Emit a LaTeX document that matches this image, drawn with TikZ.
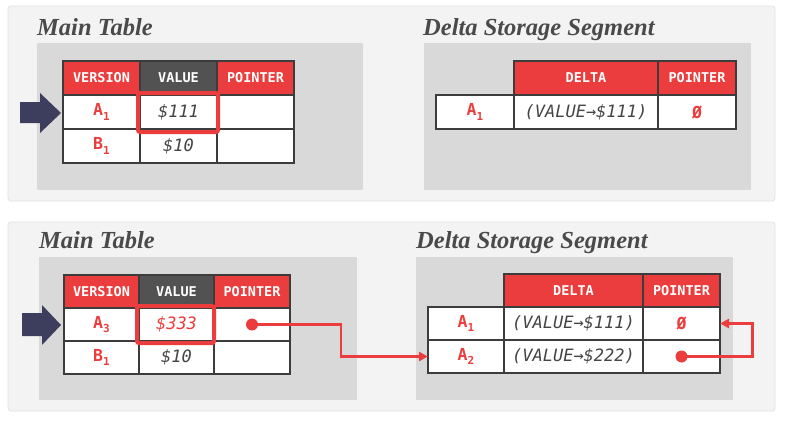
\documentclass[tikz,border=0pt]{standalone}
\usepackage{fontspec}
\usetikzlibrary{arrows.meta,calc,positioning}
\newfontfamily\titlefont{Liberation Serif}
\newfontfamily\monofont{DejaVu Sans Mono}
\definecolor{dbred}{HTML}{EB3D3D}
\definecolor{hdrgray}{HTML}{525252}
\definecolor{cellline}{HTML}{3C3C3C}
\definecolor{panelgray}{HTML}{F3F3F3}
\definecolor{panelline}{HTML}{E2E2E2}
\definecolor{traygray}{HTML}{D9D9D9}
\definecolor{titletext}{HTML}{4A4A4A}
\definecolor{valtext}{HTML}{454545}
\definecolor{navy}{HTML}{3D3E5E}
\newcommand{\vsub}[1]{\raisebox{-0.45ex}{\fontsize{11}{11}\selectfont #1}}

\begin{document}
\begin{tikzpicture}[
 x=1pt,y=-1pt,
 panel/.style={fill=panelgray,draw=panelline,rounded corners=3pt,line width=0.8pt},
 tray/.style={fill=traygray},
 tabtitle/.style={anchor=base west,inner sep=0,text=titletext,font=\titlefont\bfseries\itshape\fontsize{24.5}{28}\selectfont},
 cell/.style={draw=cellline,line width=1.8pt,fill=white,anchor=north west,inner sep=0,outer sep=0,minimum height=34pt},
 hdr/.style={cell,fill=dbred,text=white,font=\monofont\bfseries\fontsize{13.5}{15}\selectfont},
 hdrdark/.style={hdr,fill=hdrgray},
 ver/.style={cell,text=dbred,font=\monofont\bfseries\fontsize{16.5}{18}\selectfont},
 val/.style={cell,text=valtext,font=\monofont\itshape\fontsize{17}{19}\selectfont},
 hl/.style={draw=dbred,line width=4pt,rounded corners=2pt},
 ptrdot/.style={circle,fill=dbred,inner sep=0,minimum size=12pt},
 ptr/.style={draw=dbred,line width=2.4pt,-{Triangle[length=9pt,width=9pt]}}
]
\useasboundingbox[fill=white] (0,0) rectangle (792,423);

% ---- top: before the update
\draw[panel] (8,6) rectangle (775,201);
\fill[tray] (37,43) rectangle (363,190);
\fill[tray] (424,43) rectangle (751,190);
\node[tabtitle] (tMain) at (37,35) {Main Table};
\node[tabtitle] (tDelta) at (423,35) {Delta Storage Segment};

\node[hdr,minimum width=77pt] (hVer) at (63,61) {VERSION};
\node[hdrdark,minimum width=77pt] (hVal) at (140,61) {VALUE};
\node[hdr,minimum width=77pt] (hPtr) at (217,61) {POINTER};
\node[ver,minimum width=77pt] (vA1) at (63,95) {A\vsub{1}};
\node[val,minimum width=77pt] (xA1) at (140,95) {\$111};
\node[val,minimum width=77pt] (pA1) at (217,95) {};
\node[ver,minimum width=77pt] (vB1) at (63,129) {B\vsub{1}};
\node[val,minimum width=77pt] (xB1) at (140,129) {\$10};
\node[val,minimum width=77pt] (pB1) at (217,129) {};
\draw[hl] ($(xA1.north west)+(-2,-2)$) rectangle ($(xA1.south east)+(1,3)$);
\fill[navy] (20,102) -- (40,102) -- (40,93) -- (61,113) -- (40,133) -- (40,123) -- (20,123) -- cycle;

\node[hdr,minimum width=144pt] (hDelta) at (514,61) {DELTA};
\node[hdr,minimum width=78pt] (hDPtr) at (658,61) {POINTER};
\node[ver,minimum width=78pt] (dvA1) at (436,95) {A\vsub{1}};
\node[val,minimum width=144pt] (dxA1) at (514,95) {(VALUE→\$111)};
\node[ver,minimum width=78pt] (dpA1) at (658,95) {Ø};

% ---- bottom: after the update
\draw[panel] (8,222) rectangle (775,411);
\fill[tray] (39,257) rectangle (357,400);
\fill[tray] (416,257) rectangle (733,400);
\node[tabtitle] (bMain) at (39,248) {Main Table};
\node[tabtitle] (bDelta) at (416,248) {Delta Storage Segment};

\node[hdr,minimum width=75pt,minimum height=33pt] (bhVer) at (64,275) {VERSION};
\node[hdrdark,minimum width=75pt,minimum height=33pt] (bhVal) at (139,275) {VALUE};
\node[hdr,minimum width=76pt,minimum height=33pt] (bhPtr) at (214,275) {POINTER};
\node[ver,minimum width=75pt,minimum height=33pt] (bvA3) at (64,308) {A\vsub{3}};
\node[val,minimum width=75pt,minimum height=33pt,text=dbred] (bxA3) at (139,308) {\$333};
\node[val,minimum width=76pt,minimum height=33pt] (bpA3) at (214,308) {};
\node[ver,minimum width=75pt,minimum height=33pt] (bvB1) at (64,341) {B\vsub{1}};
\node[val,minimum width=75pt,minimum height=33pt] (bxB1) at (139,341) {\$10};
\node[val,minimum width=76pt,minimum height=33pt] (bpB1) at (214,341) {};
\draw[hl] ($(bxA3.north west)+(-2,-2)$) rectangle ($(bxA3.south east)+(0,2)$);
\fill[navy] (22,313) -- (42,313) -- (42,305) -- (61,325) -- (42,345) -- (42,336) -- (22,336) -- cycle;

\node[hdr,minimum width=139pt,minimum height=33pt] (bhDelta) at (504,274) {DELTA};
\node[hdr,minimum width=77pt,minimum height=33pt] (bhDPtr) at (643,274) {POINTER};
\node[ver,minimum width=76pt,minimum height=33pt] (bdvA1) at (428,307) {A\vsub{1}};
\node[val,minimum width=139pt,minimum height=33pt] (bdxA1) at (504,307) {(VALUE→\$111)};
\node[ver,minimum width=77pt,minimum height=33pt] (bdpA1) at (643,307) {Ø};
\node[ver,minimum width=76pt,minimum height=33pt] (bdvA2) at (428,340) {A\vsub{2}};
\node[val,minimum width=139pt,minimum height=33pt] (bdxA2) at (504,340) {(VALUE→\$222)};
\node[val,minimum width=77pt,minimum height=33pt] (bdpA2) at (643,340) {};

% pointers
\node[ptrdot] (dot1) at (bpA3.center) {};
\node[ptrdot] (dot2) at (bdpA2.center) {};
\coordinate (bend1) at ($(dot1)+(89,0)$);
\coordinate (bend2) at ($(dot2)+(71,0)$);
\draw[ptr] (dot1.center) -- (bend1) |- (bdvA2.west);
\draw[ptr] (dot2.center) -- (bend2) |- (bdpA1.east);
\end{tikzpicture}
\end{document}
